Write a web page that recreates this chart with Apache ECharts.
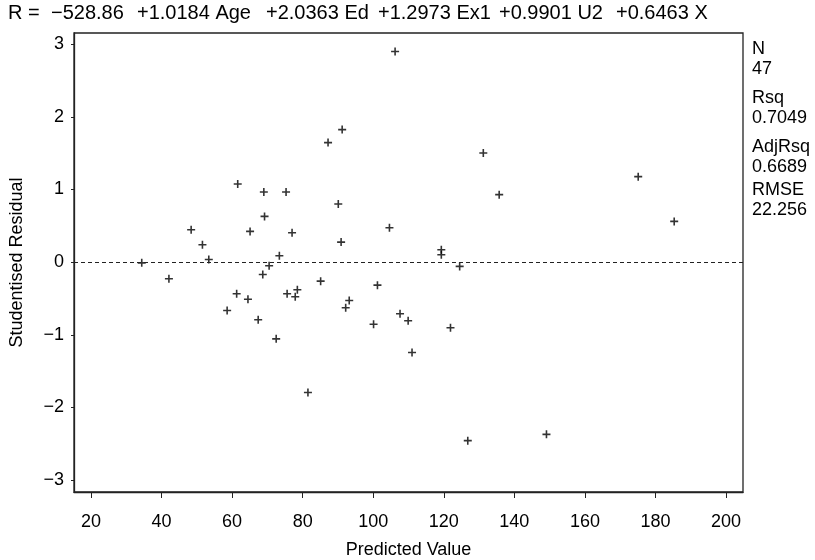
<!DOCTYPE html>
<html>
<head>
<meta charset="utf-8">
<script src="https://cdn.jsdelivr.net/npm/echarts@6/dist/echarts.min.js"></script>
<style>
  html, body { margin: 0; padding: 0; background: #fff; }
  #chart { width: 815px; height: 560px; }
</style>
</head>
<body>
<div id="chart"></div>
<script>
// fitted values and studentised residuals
const predicted = [
  106.2, 91.2, 87.2, 61.6, 69.0, 75.3, 90.1, 69.2, 48.4, 65.1,
  77.0, 104.6, 51.6, 90.9, 53.4, 73.4, 34.4, 70.5, 42.1, 68.7,
  61.3, 64.5, 58.6, 67.4, 72.5, 75.6, 77.9, 78.5, 85.1, 81.5,
  92.2, 93.2, 101.2, 100.1, 107.6, 109.9, 111.0, 119.3, 119.3, 124.5,
  121.9, 126.8, 149.1, 131.2, 135.7, 175.1, 185.3
];
const residual = [
  2.90, 1.825, 1.646, 1.075, 0.965, 0.965, 0.80, 0.63, 0.446, 0.423,
  0.405, 0.474, 0.24, 0.276, 0.037, 0.088, -0.01, -0.05, -0.229, -0.17,
  -0.436, -0.51, -0.666, -0.794, -1.056, -0.436, -0.477, -0.38, -0.262, -1.796,
  -0.629, -0.528, -0.317, -0.855, -0.711, -0.808, -1.245, 0.171, 0.102, -0.059,
  -0.904, -2.458, -2.371, 1.503, 0.929, 1.177, 0.561
];
const xTicks = [20, 40, 60, 80, 100, 120, 140, 160, 180, 200];
const yTicks = [-3, -2, -1, 0, 1, 2, 3];
const eqTerms = ['R =', '\u2212528.86', '+1.0184 Age', '+2.0363 Ed', '+1.2973 Ex1', '+0.9901 U2', '+0.6463 X'];
const statNames = ['N', 'Rsq', 'AdjRsq', 'RMSE'];
const statValues = ['47', '0.7049', '0.6689', '22.256'];

const FONT = '"Liberation Sans", Arial, sans-serif';
const plus = 'path://M3.2,0h1.6v8h-1.6zM0,3.2h8v1.6h-8z';

// where each piece of the equation starts across the top
const eqLeft = [8, 51, 137, 266, 378, 499, 616];
const graphics = eqTerms.map((t, i) => ({
  type: 'text', left: eqLeft[i], top: 3,
  style: { text: t, font: '20px ' + FONT, fill: '#000' }
}));
const statTop = [39, 88, 137, 180];
statNames.forEach((n, i) => {
  graphics.push({
    type: 'text', left: 752, top: statTop[i],
    style: { text: n + '\n' + statValues[i], font: '18px ' + FONT, fill: '#000', lineHeight: 20 }
  });
});

const chart = echarts.init(document.getElementById('chart'), null, { renderer: 'canvas' });
chart.setOption({
  animation: false,
  backgroundColor: '#fff',
  textStyle: { fontFamily: FONT, color: '#000' },
  grid: {
    left: 74, right: 72, top: 33, bottom: 68,
    outerBoundsMode: 'none',
    show: true, borderColor: '#222', borderWidth: 1.3
  },
  xAxis: {
    type: 'value', min: 15.2, max: 204.8,
    name: 'Predicted Value', nameLocation: 'middle', nameGap: 49,
    nameTextStyle: { fontSize: 18, color: '#000' },
    splitLine: { show: false },
    axisLine: { show: true, onZero: false, lineStyle: { color: '#222', width: 1.3 } },
    axisTick: { show: true, length: 6, customValues: xTicks, lineStyle: { color: '#222' } },
    axisLabel: { customValues: xTicks, fontSize: 18, color: '#000', margin: 21 }
  },
  yAxis: {
    type: 'value', min: -3.165, max: 3.155,
    name: 'Studentised Residual', nameLocation: 'middle', nameGap: 48,
    nameTextStyle: { fontSize: 18, color: '#000' },
    splitLine: { show: false },
    axisLine: { show: true, onZero: false, lineStyle: { color: '#222', width: 1.3 } },
    axisTick: { show: true, length: 3, customValues: yTicks, lineStyle: { color: '#222' } },
    axisLabel: {
      customValues: yTicks, fontSize: 18, color: '#000', margin: 10,
      formatter: v => (v < 0 ? '\u2212' + Math.abs(v) : String(v))
    }
  },
  graphic: graphics,
  series: [{
    type: 'scatter',
    symbol: plus,
    symbolSize: 8,
    itemStyle: { color: '#000' },
    data: predicted.map((x, i) => [x, residual[i]]),
    markLine: {
      silent: true,
      symbol: 'none',
      label: { show: false },
      lineStyle: { color: '#222', type: [4, 3], width: 1 },
      data: [{ yAxis: 0 }]
    }
  }]
});
</script>
</body>
</html>
